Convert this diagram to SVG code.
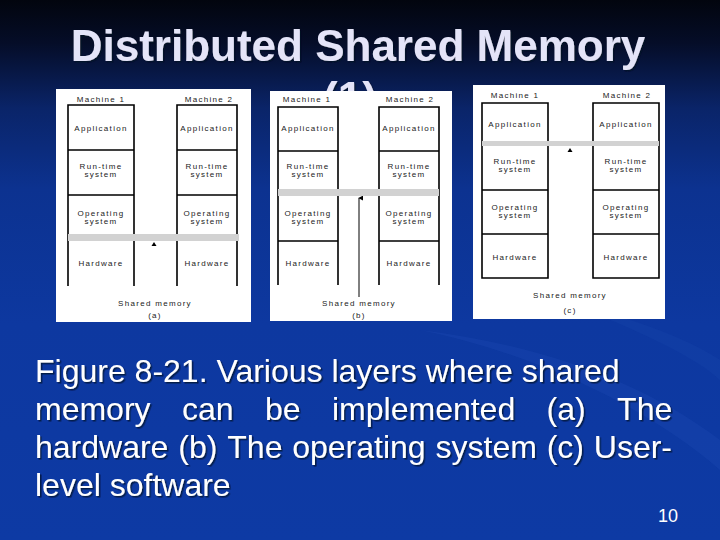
<svg xmlns="http://www.w3.org/2000/svg" width="720" height="540" viewBox="0 0 720 540">
<defs>
<linearGradient id="bg" x1="0" y1="0" x2="0" y2="1">
<stop offset="0" stop-color="#02050e"/>
<stop offset="0.08" stop-color="#050d28"/>
<stop offset="0.2" stop-color="#0a2468"/>
<stop offset="0.35" stop-color="#0c3290"/>
<stop offset="0.6" stop-color="#0d38a0"/>
<stop offset="1" stop-color="#0d3aa4"/>
</linearGradient>
<filter id="sh" x="-5%" y="-20%" width="110%" height="140%">
<feDropShadow dx="1.5" dy="1.5" stdDeviation="0.6" flood-color="#000820" flood-opacity="0.7"/>
</filter>
<clipPath id="tclip"><rect x="0" y="0" width="720" height="91"/></clipPath>
<marker id="ah" viewBox="0 0 6 6" refX="3" refY="1" markerWidth="5" markerHeight="5" orient="auto-start-reverse" markerUnits="userSpaceOnUse">
<path d="M0,6 L3,0 L6,6 Z" fill="#000"/>
</marker>
<style>
.title{font-family:"Liberation Sans",Arial,sans-serif;font-weight:bold;font-size:44px;fill:#e4e4f8}
.cap{font-family:"Liberation Sans",Arial,sans-serif;font-size:32px;fill:#ffffff}
.pg{font-family:"Liberation Sans",Arial,sans-serif;font-size:18px;fill:#ffffff}
.panel{fill:#ffffff}
.ln{stroke:#000;stroke-width:1.6;fill:none}
.bar{fill:#d2d2d2}
.lb{font-family:"Liberation Sans",Arial,sans-serif;font-size:8px;letter-spacing:1.3px;fill:#222;text-anchor:middle}
.cn{stroke:#000;stroke-width:1;fill:none}
</style>
</defs>
<rect x="0" y="0" width="720" height="540" fill="url(#bg)"/>
<path d="M420,330 C520,350 640,400 720,470 L720,440 C640,380 540,345 420,330 Z" fill="#2a5ac0" opacity="0.18"/>
<path d="M560,300 C640,330 700,360 720,380 L720,360 C690,340 640,320 560,300 Z" fill="#2a5ac0" opacity="0.12"/>

<g id="title" filter="url(#sh)">
<text class="title" x="358" y="61" text-anchor="middle">Distributed Shared Memory</text>
<text class="title" x="350" y="113" text-anchor="middle" clip-path="url(#tclip)">(1)</text>
</g>

<!-- Panel (a) -->
<g id="panel-a">
<rect class="panel" x="56" y="89" width="195" height="233"/>
<text class="lb" x="101" y="102">Machine 1</text>
<text class="lb" x="209" y="102">Machine 2</text>
<g id="a-m1">
<path class="ln" d="M68,286 V105 H134 V286 M68,150 H134 M68,195 H134"/>
<text class="lb" x="101" y="131">Application</text>
<text class="lb" x="101" y="169">Run-time</text>
<text class="lb" x="101" y="177">system</text>
<text class="lb" x="101" y="216">Operating</text>
<text class="lb" x="101" y="224">system</text>
<text class="lb" x="101" y="266">Hardware</text>
</g>
<g id="a-m2">
<path class="ln" d="M177,286 V105 H237 V286 M177,150 H237 M177,195 H237"/>
<text class="lb" x="207" y="131">Application</text>
<text class="lb" x="207" y="169">Run-time</text>
<text class="lb" x="207" y="177">system</text>
<text class="lb" x="207" y="216">Operating</text>
<text class="lb" x="207" y="224">system</text>
<text class="lb" x="207" y="266">Hardware</text>
</g>
<rect id="a-shared" class="bar" x="68" y="234" width="171" height="7"/>
<text class="lb" x="155" y="306">Shared memory</text>
<text class="lb" x="155" y="318">(a)</text>
</g>

<!-- Panel (b) -->
<g id="panel-b">
<rect class="panel" x="270" y="91" width="182" height="230"/>
<text class="lb" x="307" y="102">Machine 1</text>
<text class="lb" x="410" y="102">Machine 2</text>
<g id="b-m1">
<path class="ln" d="M278,285 V107 H338 V285 M278,151 H338 M278,241 H338"/>
<text class="lb" x="308" y="131">Application</text>
<text class="lb" x="308" y="169">Run-time</text>
<text class="lb" x="308" y="177">system</text>
<text class="lb" x="308" y="216">Operating</text>
<text class="lb" x="308" y="224">system</text>
<text class="lb" x="308" y="266">Hardware</text>
</g>
<g id="b-m2">
<path class="ln" d="M379,285 V107 H439 V285 M379,151 H439 M379,241 H439"/>
<text class="lb" x="409" y="131">Application</text>
<text class="lb" x="409" y="169">Run-time</text>
<text class="lb" x="409" y="177">system</text>
<text class="lb" x="409" y="216">Operating</text>
<text class="lb" x="409" y="224">system</text>
<text class="lb" x="409" y="266">Hardware</text>
</g>
<rect id="b-shared" class="bar" x="278" y="189" width="161" height="7"/>
<text class="lb" x="359" y="306">Shared memory</text>
<text class="lb" x="359" y="318">(b)</text>
</g>

<!-- Panel (c) -->
<g id="panel-c">
<rect class="panel" x="473" y="85" width="192" height="234"/>
<text class="lb" x="515" y="98">Machine 1</text>
<text class="lb" x="627" y="98">Machine 2</text>
<g id="c-m1">
<path class="ln" d="M482,103 H548 V278 H482 Z M482,190 H548 M482,234 H548"/>
<text class="lb" x="515" y="127">Application</text>
<text class="lb" x="515" y="164">Run-time</text>
<text class="lb" x="515" y="172">system</text>
<text class="lb" x="515" y="210">Operating</text>
<text class="lb" x="515" y="218">system</text>
<text class="lb" x="515" y="260">Hardware</text>
</g>
<g id="c-m2">
<path class="ln" d="M593,103 H659 V278 H593 Z M593,190 H659 M593,234 H659"/>
<text class="lb" x="626" y="127">Application</text>
<text class="lb" x="626" y="164">Run-time</text>
<text class="lb" x="626" y="172">system</text>
<text class="lb" x="626" y="210">Operating</text>
<text class="lb" x="626" y="218">system</text>
<text class="lb" x="626" y="260">Hardware</text>
</g>
<rect id="c-shared" class="bar" x="482" y="141" width="177" height="5"/>
<text class="lb" x="570" y="298">Shared memory</text>
<text class="lb" x="570" y="313">(c)</text>
</g>

<g id="connectors">
<path d="M151.5,246 L154,242 L156.5,246 Z" fill="#000"/>
<path class="cn" d="M359,297 V198" marker-end="url(#ah)"/>
<path d="M567.5,152 L570,148 L572.5,152 Z" fill="#000"/>
</g>

<g id="caption" filter="url(#sh)">
<text class="cap" x="35" y="382">Figure 8-21. Various layers where shared</text>
<text class="cap" y="420"><tspan x="35">memory</tspan><tspan x="182">can</tspan><tspan x="265">be</tspan><tspan x="332">implemented</tspan><tspan x="546.6">(a)</tspan><tspan x="617.1">The</tspan></text>
<text class="cap" y="458"><tspan x="35">hardware</tspan><tspan x="178.3">(b)</tspan><tspan x="227.3">The</tspan><tspan x="292.2">operating</tspan><tspan x="435.5">system</tspan><tspan x="546.7">(c)</tspan><tspan x="593.8">User-</tspan></text>
<text class="cap" x="35" y="496">level software</text>
</g>
<text id="page" class="pg" x="658" y="522">10</text>
</svg>
